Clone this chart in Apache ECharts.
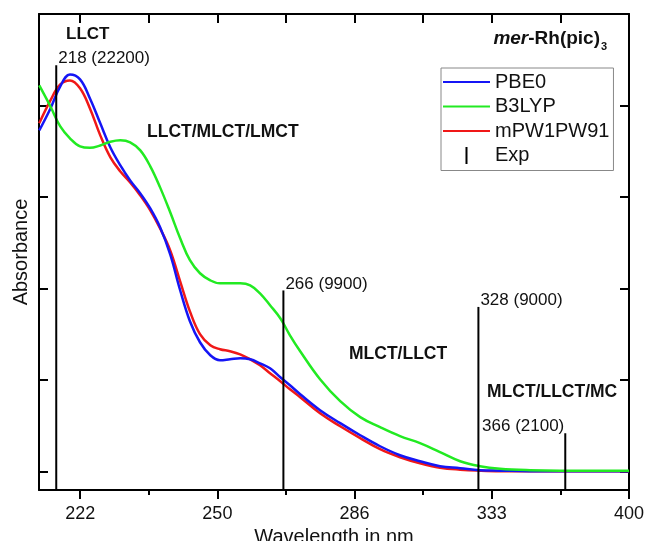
<!DOCTYPE html>
<html>
<head>
<meta charset="utf-8">
<title>mer-Rh(pic)3 UV-Vis</title>
<script src="https://cdn.jsdelivr.net/npm/echarts@6.0.0/dist/echarts.min.js"></script>
<style>
  html, body { margin: 0; padding: 0; background: #fff; }
  #uvChart { width: 646px; height: 541px; }
</style>
</head>
<body>
<div id="uvChart"></div>
<script>
// wavelengths (nm) of the sampled curve points
const wavelengths = [215.1, 217.0, 218.7, 220.4, 222.2, 224.0, 225.9, 227.8, 229.7, 231.6,
  233.6, 235.6, 237.6, 239.7, 241.8, 243.9, 246.1, 248.4, 250.6, 252.9,
  255.3, 257.7, 260.1, 262.6, 265.2, 267.7, 270.4, 275.8, 281.5, 287.4,
  293.5, 299.9, 306.6, 313.6, 321.0, 328.6, 336.7, 349.6, 363.4, 383.8, 400.0];

const pbe0 = [18640, 19840, 21050, 21700, 21430, 20390, 19030, 17710, 16730, 15910,
  15200, 14380, 13350, 11870, 9910, 8220, 7070, 6360, 6090, 6140,
  6200, 6140, 5920, 5650, 5160, 4720, 4230, 3360, 2650, 1990,
  1390, 900, 570, 300, 190, 80, 55, 30, 30, 30, 30];

const b3lyp = [21100, 19950, 18860, 18210, 17770, 17690, 17820, 18020, 18100, 17990,
  17550, 16680, 15530, 14170, 12750, 11550, 10840, 10450, 10290, 10290,
  10290, 10180, 9740, 9090, 8380, 7450, 6580, 5050, 3850, 2980,
  2430, 1940, 1560, 1070, 570, 300, 160, 80, 55, 55, 55];

const mpw1pw91 = [19030, 20280, 21150, 21370, 20940, 19840, 18370, 17170, 16400, 15800,
  15090, 14280, 13290, 12090, 10400, 8760, 7510, 6910, 6690, 6580,
  6410, 6140, 5810, 5380, 4940, 4500, 4070, 3190, 2480, 1830,
  1230, 790, 460, 220, 110, 55, 30, 30, 30, 30, 30];

// experimental bands
const expNm = [218, 266, 328, 366];
const expEps = [22200, 9900, 9000, 2100];

// axis ticks, in wavenumbers (cm-1); labels are shown in nm
const majorTicks = [25000, 30000, 35000, 40000, 45000];
const minorTicks = [27500, 32500, 37500, 42500];
const yTicks = [0, 5000, 10000, 15000, 20000];

const X_MIN = 25000, X_MAX = 46500;
const Y_MIN = -1000, Y_MAX = 25000;
const FONT = 'Liberation Sans, Arial, Helvetica, sans-serif';

// legend icons: tiny corner dots keep the icon box at full size
const LINE_ICON = 'path://M0,0h0.01v0.01h-0.01z M0,7.5h47v2h-47z M47,16.99h0.01v0.01h-0.01z';
const STICK_ICON = 'path://M0,0h0.01v0.01h-0.01z M22.5,0h2v17h-2z M47,16.99h0.01v0.01h-0.01z';

function toPairs(vals) {
  return wavelengths.map((nm, i) => [1e7 / nm, vals[i]]);
}

let myChart = echarts.init(document.getElementById('uvChart'));

const lineBase = {
  type: 'line',
  showSymbol: false,
  symbol: 'none',
  smooth: 0.4,
  animation: false
};

const frameLine = { show: true, onZero: false, lineStyle: { color: '#000', width: 2 } };
const tickStyle = { color: '#000', width: 2 };

myChart.setOption({
  animation: false,
  grid: {
    left: 39, right: 17, top: 14, bottom: 51,
    containLabel: false,
    outerBoundsMode: 'none'
  },
  legend: {
    orient: 'vertical',
    left: 441, top: 68,
    itemWidth: 47, itemHeight: 17, itemGap: 4.5,
    padding: [4, 4, 5, 2],
    borderColor: '#888', borderWidth: 1,
    backgroundColor: '#fff',
    textStyle: { fontSize: 20, color: '#111', fontFamily: FONT },
    data: [
      { name: 'PBE0', icon: LINE_ICON },
      { name: 'B3LYP', icon: LINE_ICON },
      { name: 'mPW1PW91', icon: LINE_ICON },
      { name: 'Exp', icon: STICK_ICON }
    ]
  },
  xAxis: [
    {
      type: 'value', position: 'bottom',
      min: X_MIN, max: X_MAX, inverse: true,
      axisLine: frameLine,
      axisTick: { show: true, inside: false, length: 9, customValues: majorTicks, lineStyle: tickStyle },
      axisLabel: {
        show: true, customValues: majorTicks, margin: 15,
        fontSize: 18, color: '#111', fontFamily: FONT,
        formatter: v => String(Math.round(1e7 / v))
      },
      splitLine: { show: false },
      name: 'Wavelength in nm', nameLocation: 'middle', nameGap: 31,
      nameTextStyle: { fontSize: 20, color: '#111', fontFamily: FONT }
    },
    {
      // minor ticks under the bottom axis
      type: 'value', position: 'bottom',
      min: X_MIN, max: X_MAX, inverse: true,
      axisLine: { show: false, onZero: false },
      axisTick: { show: true, inside: false, length: 5, customValues: minorTicks, lineStyle: tickStyle },
      axisLabel: { show: false },
      splitLine: { show: false }
    },
    {
      type: 'value', position: 'top',
      min: X_MIN, max: X_MAX, inverse: true,
      axisLine: frameLine,
      axisTick: { show: true, inside: true, length: 9, customValues: majorTicks.concat(minorTicks), lineStyle: tickStyle },
      axisLabel: { show: false },
      splitLine: { show: false }
    }
  ],
  yAxis: [
    {
      type: 'value', position: 'left',
      min: Y_MIN, max: Y_MAX,
      axisLine: frameLine,
      axisTick: { show: true, inside: true, length: 9, customValues: yTicks, lineStyle: tickStyle },
      axisLabel: { show: false },
      splitLine: { show: false },
      name: 'Absorbance', nameLocation: 'middle', nameGap: 8,
      nameTextStyle: { fontSize: 20, color: '#111', fontFamily: FONT }
    },
    {
      type: 'value', position: 'right',
      min: Y_MIN, max: Y_MAX,
      axisLine: frameLine,
      axisTick: { show: true, inside: true, length: 9, customValues: yTicks, lineStyle: tickStyle },
      axisLabel: { show: false },
      splitLine: { show: false }
    }
  ],
  series: [
    Object.assign({}, lineBase, {
      name: 'mPW1PW91', data: toPairs(mpw1pw91), z: 2,
      itemStyle: { color: '#f01818' }, lineStyle: { color: '#f01818', width: 2.5 }
    }),
    Object.assign({}, lineBase, {
      name: 'PBE0', data: toPairs(pbe0), z: 3,
      itemStyle: { color: '#1515f5' }, lineStyle: { color: '#1515f5', width: 2.5 }
    }),
    Object.assign({}, lineBase, {
      name: 'B3LYP', data: toPairs(b3lyp), z: 4,
      itemStyle: { color: '#22ea22' }, lineStyle: { color: '#22ea22', width: 2.5 }
    }),
    {
      name: 'Exp',
      type: 'custom',
      z: 5,
      itemStyle: { color: '#000' },
      data: expNm.map((nm, i) => [1e7 / nm, expEps[i]]),
      renderItem: function (params, api) {
        const top = api.coord([api.value(0), api.value(1)]);
        const bottom = api.coord([api.value(0), Y_MIN]);
        const i = params.dataIndex;
        // the last band is labelled on the left of its stick
        const rightSide = i === expNm.length - 1;
        return {
          type: 'group',
          children: [
            {
              type: 'line',
              shape: { x1: top[0], y1: top[1], x2: bottom[0], y2: bottom[1] },
              style: { stroke: '#000', lineWidth: 2 }
            },
            {
              type: 'text',
              x: rightSide ? top[0] - 1 : top[0] + 2,
              y: top[1] + 2,
              style: {
                text: expNm[i] + ' (' + expEps[i] + ')',
                fontSize: 17, fontFamily: FONT, fill: '#111',
                align: rightSide ? 'right' : 'left',
                verticalAlign: 'bottom'
              }
            }
          ]
        };
      }
    }
  ],
  graphic: [
    { type: 'text', x: 66, y: 34, style: { text: 'LLCT', fontSize: 17, fontWeight: 'bold', fontFamily: FONT, fill: '#111', align: 'left', verticalAlign: 'middle' } },
    { type: 'text', x: 147, y: 132, style: { text: 'LLCT/MLCT/LMCT', fontSize: 17.5, fontWeight: 'bold', fontFamily: FONT, fill: '#111', align: 'left', verticalAlign: 'middle' } },
    { type: 'text', x: 349, y: 354, style: { text: 'MLCT/LLCT', fontSize: 17.5, fontWeight: 'bold', fontFamily: FONT, fill: '#111', align: 'left', verticalAlign: 'middle' } },
    { type: 'text', x: 487, y: 392, style: { text: 'MLCT/LLCT/MC', fontSize: 17.5, fontWeight: 'bold', fontFamily: FONT, fill: '#111', align: 'left', verticalAlign: 'middle' } },
    {
      type: 'text', x: 600, y: 39,
      style: {
        text: '{it|mer}{b|-Rh(pic)}',
        align: 'right', verticalAlign: 'middle',
        rich: {
          it: { fontSize: 19, fontWeight: 'bold', fontStyle: 'italic', fontFamily: FONT, fill: '#111' },
          b: { fontSize: 19, fontWeight: 'bold', fontFamily: FONT, fill: '#111' }
        }
      }
    },
    { type: 'text', x: 601, y: 47, style: { text: '3', fontSize: 11, fontWeight: 'bold', fontFamily: FONT, fill: '#111', align: 'left', verticalAlign: 'middle' } }
  ]
});
</script>
</body>
</html>
